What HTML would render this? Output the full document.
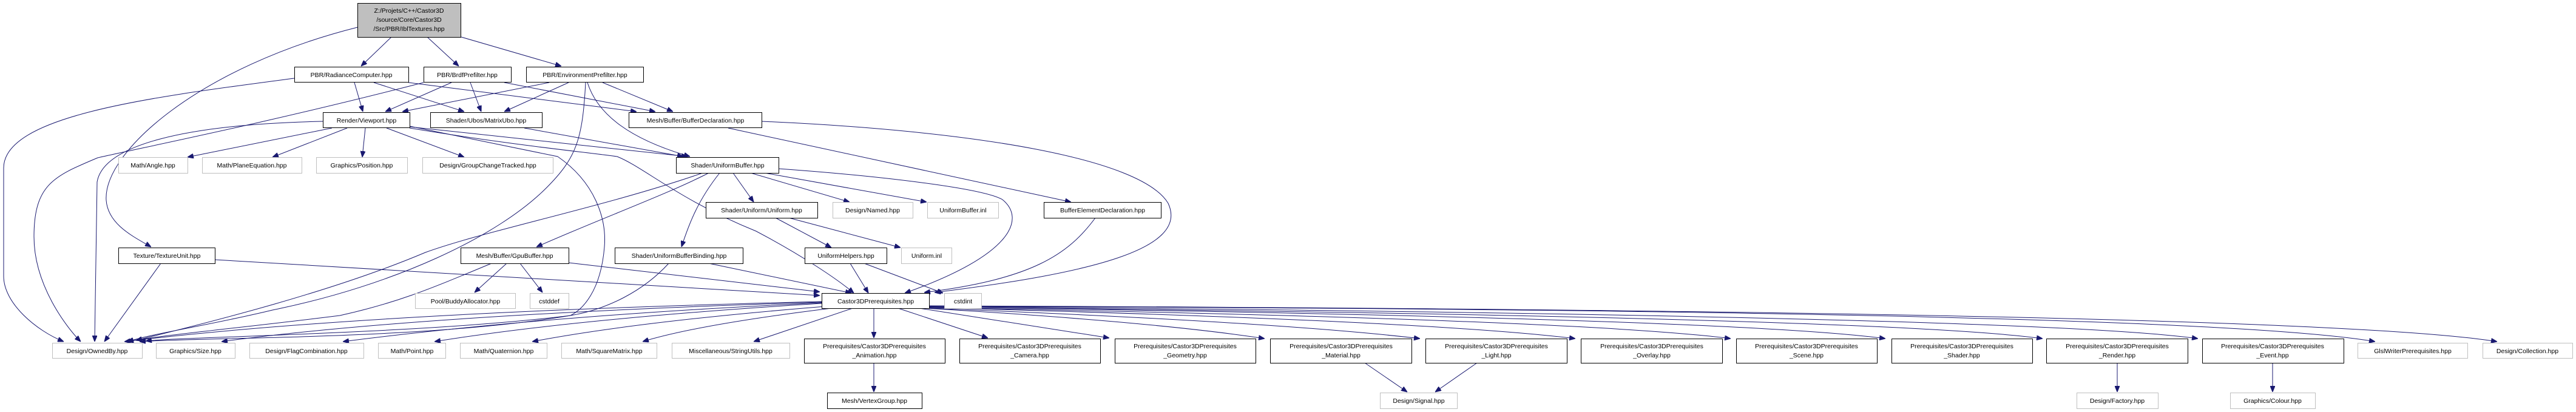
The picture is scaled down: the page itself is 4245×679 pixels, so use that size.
<!DOCTYPE html>
<html><head><meta charset="utf-8"><style>
html,body{margin:0;padding:0;background:#fff;}
svg{display:block}
text{font-family:"Liberation Sans",Arial,sans-serif;font-size:10.5px;fill:#000;text-anchor:middle}
.e{fill:none;stroke:#191970;stroke-width:1;marker-end:url(#a)}
.n{fill:#fff;stroke:#000;stroke-width:1}
.g{fill:#fff;stroke:#bfbfbf;stroke-width:1}
</style></head><body>
<svg width="4245" height="679" viewBox="0 0 4245 679" xmlns="http://www.w3.org/2000/svg">
<defs><marker id="a" markerWidth="10" markerHeight="8" refX="10" refY="4" orient="auto" markerUnits="userSpaceOnUse"><path d="M0,0 L10,4 L0,8 z" fill="#191970" stroke="#191970"/></marker></defs>

<path class="e" d="M589,45 C330,110 170,250 175,330 C178,370 220,390 249,407"/>
<path class="e" d="M645,61 L595,109"/>
<path class="e" d="M704,61 L756,109"/>
<path class="e" d="M760,61 L925,109"/>
<path class="e" d="M485,129 C250,160 6,190 6,277 L6,455 C6,500 60,545 105,563"/>
<path class="e" d="M584,136 L598,184"/>
<path class="e" d="M616,136 L765,184"/>
<path class="e" d="M673,136 L1049,184"/>
<path class="e" d="M698,136 C450,200 250,240 161,260 C90,290 56,303 56,390 C56,470 110,540 133,563"/>
<path class="e" d="M744,136 L635,184"/>
<path class="e" d="M775,136 L793,184"/>
<path class="e" d="M831,136 L1080,184"/>
<path class="e" d="M905,136 L663,184"/>
<path class="e" d="M937,136 L831,184"/>
<path class="e" d="M993,136 L1109,184"/>
<path class="e" d="M968,136 C985,190 1040,230 1137,258"/>
<path class="e" d="M965,136 C960,230 950,260 900,310 C820,390 650,470 449,511 C350,535 260,548 210,563"/>
<path class="e" d="M532,200 C300,205 170,240 160,300 L156,563"/>
<path class="e" d="M547,211 L309,259"/>
<path class="e" d="M572,211 L449,259"/>
<path class="e" d="M602,211 L597,259"/>
<path class="e" d="M637,211 L765,259"/>
<path class="e" d="M675,209 L1133,258"/>
<path class="e" d="M864,211 L1126,258"/>
<path class="e" d="M675,211 C850,240 960,250 1017,258 C1060,275 1120,330 1246,381 C1320,420 1380,460 1407,483"/>
<path class="e" d="M675,208 C780,230 880,250 919,258 C980,300 1000,360 996,407 C990,480 960,510 940,520 C700,560 350,555 230,563"/>
<path class="e" d="M1158,285 C1000,340 800,380 701,416 C550,480 350,530 224,561"/>
<path class="e" d="M1168,285 C1100,320 990,360 884,407"/>
<path class="e" d="M1186,285 C1150,330 1135,370 1123,407"/>
<path class="e" d="M1208,285 L1242,333"/>
<path class="e" d="M1237,285 L1400,333"/>
<path class="e" d="M1260,285 L1527,333"/>
<path class="e" d="M1283,278 C1450,290 1620,310 1652,329 C1690,360 1670,420 1491,483"/>
<path class="e" d="M1278,359 L1370,408"/>
<path class="e" d="M1300,359 L1484,408"/>
<path class="e" d="M1200,211 L1765,333"/>
<path class="e" d="M1255,200 C1600,215 1880,260 1925,335 C1960,410 1800,450 1540,482"/>
<path class="e" d="M1805,359 C1760,420 1700,460 1523,482"/>
<path class="e" d="M1401,434 L1431,483"/>
<path class="e" d="M1424,434 L1554,483"/>
<path class="e" d="M1168,434 L1403,483"/>
<path class="e" d="M1102,434 C1060,480 1000,510 940,520 C700,550 300,555 240,562"/>
<path class="e" d="M265,434 L172,563"/>
<path class="e" d="M354,428 L1351,487"/>
<path class="e" d="M810,434 C700,480 650,500 560,520 C400,540 260,553 210,563"/>
<path class="e" d="M835,434 L782,482"/>
<path class="e" d="M857,434 L894,482"/>
<path class="e" d="M937,433 L1351,481"/>
<path class="e" d="M1354,497 Q600,515 205,563"/>
<path class="e" d="M1354,498 Q700,518 365,563"/>
<path class="e" d="M1354,499 Q900,520 565,563"/>
<path class="e" d="M1354,500 Q950,525 716,563"/>
<path class="e" d="M1360,505 Q1050,530 877,563"/>
<path class="e" d="M1370,508 Q1150,535 1059,563"/>
<path class="e" d="M1405,508 L1242,563"/>
<path class="e" d="M1440,508 L1440,557"/>
<path class="e" d="M1480,508 L1628,557"/>
<path class="e" d="M1515,508 L1828,557"/>
<path class="e" d="M1525,508 Q1900,530 2084,558"/>
<path class="e" d="M1531,508 Q2100,530 2340,558"/>
<path class="e" d="M1531,507 Q2350,528 2596,558"/>
<path class="e" d="M1531,507 Q2600,526 2852,558"/>
<path class="e" d="M1531,506 Q2850,524 3107,558"/>
<path class="e" d="M1531,506 Q3100,522 3366,558"/>
<path class="e" d="M1531,505 Q3350,520 3622,558"/>
<path class="e" d="M1531,505 Q3600,510 3914,563"/>
<path class="e" d="M1531,504 Q3800,512 4115,563"/>
<path class="e" d="M1440,598 L1440,646"/>
<path class="e" d="M2249,598 L2319,646"/>
<path class="e" d="M2434,598 L2365,646"/>
<path class="e" d="M3489,598 L3489,646"/>
<path class="e" d="M3745,598 L3745,646"/>

<rect x="589.5" y="5.5" width="170" height="56" fill="#bfbfbf" stroke="#000"/>
<text x="674" y="21">Z:/Projets/C++/Castor3D</text>
<text x="674" y="36">/source/Core/Castor3D</text>
<text x="674" y="51">/Src/PBR/IblTextures.hpp</text>

<rect class="n" x="485.5" y="110.5" width="188" height="25"/><text x="579" y="127">PBR/RadianceComputer.hpp</text>
<rect class="n" x="698.5" y="110.5" width="144" height="25"/><text x="770" y="127">PBR/BrdfPrefilter.hpp</text>
<rect class="n" x="867.5" y="110.5" width="193" height="25"/><text x="964" y="127">PBR/EnvironmentPrefilter.hpp</text>

<rect class="n" x="532.5" y="185.5" width="143" height="25"/><text x="604" y="202">Render/Viewport.hpp</text>
<rect class="n" x="709.5" y="185.5" width="184" height="25"/><text x="801" y="202">Shader/Ubos/MatrixUbo.hpp</text>
<rect class="n" x="1036.5" y="185.5" width="219" height="25"/><text x="1146" y="202">Mesh/Buffer/BufferDeclaration.hpp</text>

<rect class="g" x="195.5" y="259.5" width="114" height="26"/><text x="252" y="276">Math/Angle.hpp</text>
<rect class="g" x="333.5" y="259.5" width="164" height="26"/><text x="415" y="276">Math/PlaneEquation.hpp</text>
<rect class="g" x="521.5" y="259.5" width="150" height="26"/><text x="596" y="276">Graphics/Position.hpp</text>
<rect class="g" x="696.5" y="259.5" width="215" height="26"/><text x="804" y="276">Design/GroupChangeTracked.hpp</text>
<rect class="n" x="1114.5" y="259.5" width="169" height="26"/><text x="1199" y="276">Shader/UniformBuffer.hpp</text>

<rect class="n" x="1163.5" y="333.5" width="184" height="26"/><text x="1255" y="350">Shader/Uniform/Uniform.hpp</text>
<rect class="g" x="1372.5" y="333.5" width="132" height="26"/><text x="1438" y="350">Design/Named.hpp</text>
<rect class="g" x="1528.5" y="333.5" width="117" height="26"/><text x="1587" y="350">UniformBuffer.inl</text>
<rect class="n" x="1720.5" y="333.5" width="193" height="26"/><text x="1817" y="350">BufferElementDeclaration.hpp</text>

<rect class="n" x="195.5" y="408.5" width="159" height="26"/><text x="275" y="425">Texture/TextureUnit.hpp</text>
<rect class="n" x="759.5" y="408.5" width="178" height="26"/><text x="848" y="425">Mesh/Buffer/GpuBuffer.hpp</text>
<rect class="n" x="1013.5" y="408.5" width="211" height="26"/><text x="1119" y="425">Shader/UniformBufferBinding.hpp</text>
<rect class="n" x="1326.5" y="408.5" width="135" height="26"/><text x="1394" y="425">UniformHelpers.hpp</text>
<rect class="g" x="1485.5" y="408.5" width="83" height="26"/><text x="1527" y="425">Uniform.inl</text>

<rect class="g" x="684.5" y="483.5" width="165" height="25"/><text x="767" y="500">Pool/BuddyAllocator.hpp</text>
<rect class="g" x="873.5" y="483.5" width="64" height="25"/><text x="905" y="500">cstddef</text>
<rect class="n" x="1354.5" y="483.5" width="177" height="25"/><text x="1443" y="500">Castor3DPrerequisites.hpp</text>
<rect class="g" x="1556.5" y="483.5" width="61" height="25"/><text x="1587" y="500">cstdint</text>

<rect class="g" x="86.5" y="565.5" width="148" height="25"/><text x="160" y="582">Design/OwnedBy.hpp</text>
<rect class="g" x="257.5" y="565.5" width="130" height="25"/><text x="322" y="582">Graphics/Size.hpp</text>
<rect class="g" x="411.5" y="565.5" width="188" height="25"/><text x="505" y="582">Design/FlagCombination.hpp</text>
<rect class="g" x="623.5" y="565.5" width="111" height="25"/><text x="679" y="582">Math/Point.hpp</text>
<rect class="g" x="758.5" y="565.5" width="143" height="25"/><text x="830" y="582">Math/Quaternion.hpp</text>
<rect class="g" x="925.5" y="565.5" width="157" height="25"/><text x="1004" y="582">Math/SquareMatrix.hpp</text>
<rect class="g" x="1107.5" y="565.5" width="194" height="25"/><text x="1204" y="582">Miscellaneous/StringUtils.hpp</text>

<rect class="n" x="1325.5" y="558.5" width="232" height="40"/><text x="1441" y="574">Prerequisites/Castor3DPrerequisites</text><text x="1441" y="589">_Animation.hpp</text>
<rect class="n" x="1581.5" y="558.5" width="232" height="40"/><text x="1697" y="574">Prerequisites/Castor3DPrerequisites</text><text x="1697" y="589">_Camera.hpp</text>
<rect class="n" x="1837.5" y="558.5" width="232" height="40"/><text x="1953" y="574">Prerequisites/Castor3DPrerequisites</text><text x="1953" y="589">_Geometry.hpp</text>
<rect class="n" x="2093.5" y="558.5" width="233" height="40"/><text x="2210" y="574">Prerequisites/Castor3DPrerequisites</text><text x="2210" y="589">_Material.hpp</text>
<rect class="n" x="2349.5" y="558.5" width="233" height="40"/><text x="2466" y="574">Prerequisites/Castor3DPrerequisites</text><text x="2466" y="589">_Light.hpp</text>
<rect class="n" x="2605.5" y="558.5" width="233" height="40"/><text x="2722" y="574">Prerequisites/Castor3DPrerequisites</text><text x="2722" y="589">_Overlay.hpp</text>
<rect class="n" x="2861.5" y="558.5" width="232" height="40"/><text x="2977" y="574">Prerequisites/Castor3DPrerequisites</text><text x="2977" y="589">_Scene.hpp</text>
<rect class="n" x="3117.5" y="558.5" width="232" height="40"/><text x="3233" y="574">Prerequisites/Castor3DPrerequisites</text><text x="3233" y="589">_Shader.hpp</text>
<rect class="n" x="3372.5" y="558.5" width="233" height="40"/><text x="3489" y="574">Prerequisites/Castor3DPrerequisites</text><text x="3489" y="589">_Render.hpp</text>
<rect class="n" x="3629.5" y="558.5" width="233" height="40"/><text x="3745" y="574">Prerequisites/Castor3DPrerequisites</text><text x="3745" y="589">_Event.hpp</text>
<rect class="g" x="3885.5" y="565.5" width="181" height="25"/><text x="3976" y="582">GlslWriterPrerequisites.hpp</text>
<rect class="g" x="4091.5" y="565.5" width="148" height="25"/><text x="4165" y="582">Design/Collection.hpp</text>

<rect class="n" x="1363.5" y="647.5" width="156" height="26"/><text x="1441" y="664">Mesh/VertexGroup.hpp</text>
<rect class="g" x="2274.5" y="647.5" width="127" height="26"/><text x="2338" y="664">Design/Signal.hpp</text>
<rect class="g" x="3422.5" y="647.5" width="134" height="26"/><text x="3489" y="664">Design/Factory.hpp</text>
<rect class="g" x="3675.5" y="647.5" width="140" height="26"/><text x="3745" y="664">Graphics/Colour.hpp</text>
</svg>
</body></html>
